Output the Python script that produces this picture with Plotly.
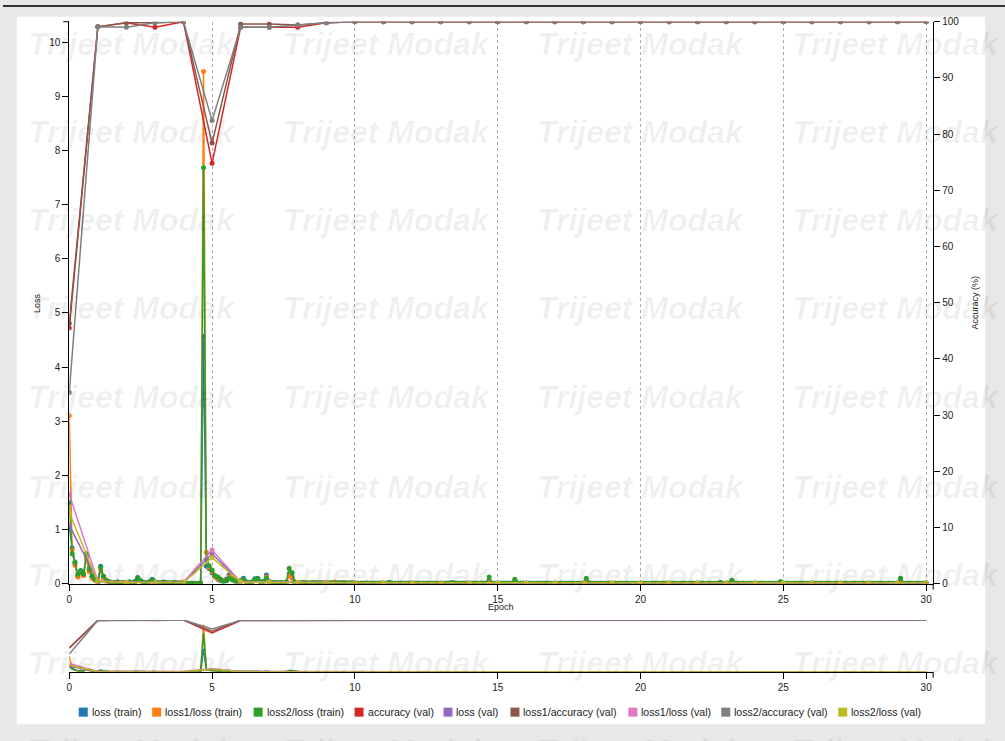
import plotly.graph_objects as go

W, H = 1005, 741

# ---------------- data ----------------
series_names = ["loss (train)", "loss1/loss (train)", "loss2/loss (train)",
                "accuracy (val)", "loss (val)", "loss1/accuracy (val)",
                "loss1/loss (val)", "loss2/accuracy (val)", "loss2/loss (val)"]
series_colors = ["#1f77b4", "#ff7f0e", "#2ca02c", "#d62728", "#9467bd",
                 "#8c564b", "#e377c2", "#7f7f7f", "#bcbd22"]

train_steps_per_epoch = 10

loss_train_rows = [
    [1.02, 0.66, 0.38, 0.14, 0.24, 0.16, 0.50, 0.24, 0.12, 0.07],
    [0.03, 0.32, 0.12, 0.05, 0.03, 0.02, 0.02, 0.03, 0.01, 0.02],
    [0.02, 0.03, 0.02, 0.04, 0.11, 0.05, 0.02, 0.01, 0.03, 0.08],
    [0.03, 0.02, 0.01, 0.03, 0.02, 0.01, 0.01, 0.02, 0.01, 0.01],
    [0.01, 0.005, 0.005, 0.004, 0.005, 0.004, 0.01, 4.57, 0.32, 0.28],
    [0.20, 0.14, 0.08, 0.05, 0.04, 0.08, 0.16, 0.10, 0.04, 0.03],
    [0.05, 0.10, 0.03, 0.02, 0.03, 0.09, 0.10, 0.03, 0.04, 0.16],
    [0.04, 0.02, 0.02, 0.01, 0.02, 0.01, 0.03, 0.18, 0.12, 0.03],
    [0.02, 0.01, 0.02, 0.01, 0.01, 0.02, 0.01, 0.01, 0.02, 0.01],
    [0.01, 0.01, 0.02, 0.01, 0.01, 0.01, 0.02, 0.01, 0.01, 0.01],
    [0.01, 0.005, 0.008, 0.006, 0.01, 0.005, 0.007, 0.006, 0.005, 0.008],
    [0.006, 0.005, 0.02, 0.006, 0.005, 0.007, 0.005, 0.006, 0.005, 0.004],
    [0.005, 0.006, 0.004, 0.005, 0.007, 0.005, 0.004, 0.005, 0.006, 0.004],
    [0.005, 0.004, 0.006, 0.005, 0.015, 0.005, 0.004, 0.005, 0.004, 0.005],
    [0.004, 0.005, 0.004, 0.006, 0.005, 0.004, 0.008, 0.05, 0.006, 0.004],
    [0.005, 0.004, 0.005, 0.006, 0.004, 0.005, 0.04, 0.006, 0.004, 0.005],
    [0.004, 0.005, 0.004, 0.003, 0.005, 0.004, 0.003, 0.004, 0.005, 0.003],
    [0.004, 0.003, 0.005, 0.004, 0.003, 0.004, 0.005, 0.003, 0.004, 0.003],
    [0.004, 0.04, 0.005, 0.003, 0.004, 0.003, 0.005, 0.004, 0.003, 0.004],
    [0.003, 0.004, 0.003, 0.005, 0.003, 0.004, 0.003, 0.004, 0.003, 0.003],
    [0.003, 0.004, 0.003, 0.003, 0.004, 0.003, 0.005, 0.003, 0.003, 0.004],
    [0.003, 0.003, 0.004, 0.003, 0.003, 0.004, 0.003, 0.003, 0.004, 0.003],
    [0.003, 0.004, 0.003, 0.003, 0.004, 0.003, 0.003, 0.004, 0.012, 0.003],
    [0.004, 0.003, 0.03, 0.004, 0.003, 0.003, 0.004, 0.003, 0.003, 0.004],
    [0.003, 0.003, 0.004, 0.003, 0.003, 0.004, 0.003, 0.003, 0.004, 0.02],
    [0.003, 0.004, 0.003, 0.003, 0.004, 0.003, 0.003, 0.004, 0.003, 0.003],
    [0.004, 0.003, 0.003, 0.004, 0.003, 0.003, 0.004, 0.003, 0.003, 0.004],
    [0.003, 0.003, 0.004, 0.003, 0.003, 0.004, 0.003, 0.003, 0.004, 0.003],
    [0.003, 0.004, 0.003, 0.003, 0.004, 0.003, 0.003, 0.004, 0.003, 0.003],
    [0.004, 0.03, 0.003, 0.004, 0.003, 0.003, 0.004, 0.003, 0.003, 0.004],
    [0.003],
]

loss1_loss_train_rows = [
    [3.10, 0.62, 0.34, 0.12, 0.20, 0.15, 0.46, 0.22, 0.10, 0.06],
    [0.03, 0.26, 0.10, 0.04, 0.03, 0.02, 0.01, 0.02, 0.01, 0.02],
    [0.01, 0.02, 0.02, 0.03, 0.08, 0.04, 0.01, 0.01, 0.02, 0.06],
    [0.02, 0.01, 0.01, 0.02, 0.01, 0.01, 0.01, 0.01, 0.01, 0.01],
    [0.005, 0.004, 0.004, 0.003, 0.004, 0.003, 0.008, 9.46, 0.58, 0.30],
    [0.22, 0.12, 0.10, 0.06, 0.05, 0.06, 0.12, 0.09, 0.05, 0.03],
    [0.04, 0.06, 0.03, 0.02, 0.02, 0.06, 0.08, 0.02, 0.03, 0.12],
    [0.03, 0.02, 0.01, 0.01, 0.01, 0.01, 0.02, 0.15, 0.10, 0.02],
    [0.01, 0.01, 0.01, 0.01, 0.01, 0.01, 0.01, 0.01, 0.01, 0.01],
    [0.01, 0.01, 0.01, 0.03, 0.01, 0.01, 0.01, 0.01, 0.01, 0.01],
    [0.008, 0.004, 0.006, 0.005, 0.007, 0.004, 0.005, 0.006, 0.004, 0.005],
    [0.005, 0.004, 0.01, 0.005, 0.004, 0.006, 0.004, 0.005, 0.004, 0.003],
    [0.004, 0.005, 0.003, 0.004, 0.005, 0.004, 0.003, 0.004, 0.005, 0.003],
    [0.004, 0.003, 0.005, 0.004, 0.012, 0.004, 0.003, 0.004, 0.003, 0.004],
    [0.003, 0.004, 0.003, 0.005, 0.004, 0.003, 0.006, 0.04, 0.005, 0.003],
    [0.004, 0.003, 0.004, 0.005, 0.003, 0.004, 0.07, 0.005, 0.003, 0.004],
    [0.003, 0.004, 0.003, 0.003, 0.004, 0.003, 0.003, 0.004, 0.004, 0.003],
    [0.003, 0.003, 0.004, 0.003, 0.003, 0.004, 0.004, 0.003, 0.003, 0.003],
    [0.003, 0.06, 0.004, 0.003, 0.003, 0.003, 0.004, 0.003, 0.003, 0.003],
    [0.003, 0.003, 0.003, 0.004, 0.003, 0.003, 0.003, 0.003, 0.003, 0.003],
    [0.003, 0.003, 0.003, 0.003, 0.003, 0.003, 0.004, 0.003, 0.003, 0.003],
    [0.003, 0.003, 0.003, 0.003, 0.003, 0.003, 0.003, 0.003, 0.003, 0.003],
    [0.003, 0.003, 0.003, 0.003, 0.003, 0.003, 0.003, 0.003, 0.01, 0.003],
    [0.003, 0.003, 0.025, 0.003, 0.003, 0.003, 0.003, 0.003, 0.003, 0.003],
    [0.003, 0.003, 0.003, 0.003, 0.003, 0.003, 0.003, 0.003, 0.003, 0.015],
    [0.003, 0.002, 0.003, 0.003, 0.002, 0.003, 0.003, 0.002, 0.003, 0.003],
    [0.003, 0.003, 0.002, 0.003, 0.003, 0.002, 0.003, 0.003, 0.002, 0.003],
    [0.002, 0.003, 0.003, 0.002, 0.003, 0.003, 0.002, 0.003, 0.003, 0.002],
    [0.003, 0.002, 0.003, 0.003, 0.002, 0.003, 0.003, 0.002, 0.003, 0.003],
    [0.003, 0.04, 0.003, 0.002, 0.003, 0.003, 0.002, 0.003, 0.003, 0.002],
    [0.003],
]

loss2_loss_train_rows = [
    [1.50, 0.55, 0.40, 0.17, 0.23, 0.18, 0.55, 0.28, 0.14, 0.08],
    [0.03, 0.30, 0.14, 0.06, 0.04, 0.02, 0.02, 0.03, 0.01, 0.02],
    [0.02, 0.03, 0.02, 0.04, 0.10, 0.05, 0.02, 0.01, 0.03, 0.07],
    [0.03, 0.02, 0.01, 0.02, 0.02, 0.01, 0.01, 0.02, 0.01, 0.01],
    [0.005, 0.003, 0.003, 0.002, 0.003, 0.002, 0.004, 7.68, 0.45, 0.33],
    [0.25, 0.15, 0.12, 0.08, 0.04, 0.05, 0.10, 0.07, 0.06, 0.03],
    [0.05, 0.08, 0.03, 0.02, 0.03, 0.08, 0.09, 0.03, 0.04, 0.10],
    [0.04, 0.02, 0.02, 0.01, 0.02, 0.01, 0.03, 0.28, 0.20, 0.03],
    [0.02, 0.01, 0.02, 0.01, 0.01, 0.01, 0.02, 0.01, 0.01, 0.01],
    [0.01, 0.01, 0.01, 0.01, 0.01, 0.02, 0.01, 0.01, 0.01, 0.01],
    [0.01, 0.006, 0.008, 0.007, 0.01, 0.006, 0.008, 0.007, 0.006, 0.009],
    [0.007, 0.006, 0.02, 0.007, 0.006, 0.008, 0.006, 0.007, 0.006, 0.005],
    [0.006, 0.007, 0.005, 0.006, 0.008, 0.006, 0.005, 0.006, 0.007, 0.005],
    [0.006, 0.005, 0.007, 0.006, 0.02, 0.006, 0.005, 0.006, 0.005, 0.006],
    [0.005, 0.006, 0.005, 0.007, 0.006, 0.005, 0.01, 0.12, 0.007, 0.005],
    [0.006, 0.005, 0.006, 0.007, 0.005, 0.006, 0.08, 0.007, 0.005, 0.006],
    [0.005, 0.006, 0.005, 0.004, 0.006, 0.005, 0.004, 0.005, 0.006, 0.004],
    [0.005, 0.004, 0.006, 0.005, 0.004, 0.005, 0.006, 0.004, 0.005, 0.004],
    [0.005, 0.10, 0.006, 0.004, 0.005, 0.004, 0.006, 0.005, 0.004, 0.005],
    [0.004, 0.005, 0.004, 0.006, 0.004, 0.005, 0.004, 0.005, 0.004, 0.004],
    [0.004, 0.005, 0.004, 0.004, 0.005, 0.004, 0.006, 0.004, 0.004, 0.005],
    [0.004, 0.004, 0.005, 0.004, 0.004, 0.005, 0.004, 0.004, 0.005, 0.004],
    [0.004, 0.005, 0.004, 0.004, 0.005, 0.004, 0.004, 0.005, 0.02, 0.004],
    [0.005, 0.004, 0.06, 0.005, 0.004, 0.004, 0.005, 0.004, 0.004, 0.005],
    [0.004, 0.004, 0.005, 0.004, 0.004, 0.005, 0.004, 0.004, 0.005, 0.04],
    [0.004, 0.005, 0.004, 0.004, 0.005, 0.004, 0.004, 0.005, 0.004, 0.004],
    [0.005, 0.004, 0.004, 0.005, 0.004, 0.004, 0.005, 0.004, 0.004, 0.005],
    [0.004, 0.004, 0.005, 0.004, 0.004, 0.005, 0.004, 0.004, 0.005, 0.004],
    [0.004, 0.005, 0.004, 0.004, 0.005, 0.004, 0.004, 0.005, 0.004, 0.004],
    [0.005, 0.10, 0.004, 0.005, 0.004, 0.004, 0.005, 0.004, 0.004, 0.005],
    [0.004],
]

val_epochs = list(range(0, 31))
accuracy_val = [45.5, 99.1, 99.8, 99.0, 100, 74.8, 99.0, 99.0, 99.0, 99.8,
                100, 100, 100, 100, 100, 100, 100, 100, 100, 100,
                100, 100, 100, 100, 100, 100, 100, 100, 100, 100, 100]
loss1_accuracy_val = [46.3, 99.1, 99.8, 99.8, 100, 78.4, 99.6, 99.6, 99.4, 99.8,
                      100, 100, 100, 100, 100, 100, 100, 100, 100, 100,
                      100, 100, 100, 100, 100, 100, 100, 100, 100, 100, 100]
loss2_accuracy_val = [34.0, 99.1, 99.0, 99.8, 100, 82.4, 99.0, 99.0, 99.4, 99.8,
                      100, 100, 100, 100, 100, 100, 100, 100, 100, 100,
                      100, 100, 100, 100, 100, 100, 100, 100, 100, 100, 100]
loss_val = [1.08, 0.04, 0.02, 0.02, 0.02, 0.55, 0.03, 0.02, 0.02, 0.02,
            0.01, 0.01, 0.01, 0.01, 0.01, 0.01, 0.01, 0.01, 0.01, 0.01,
            0.01, 0.01, 0.01, 0.01, 0.01, 0.01, 0.01, 0.01, 0.01, 0.01, 0.01]
loss1_loss_val = [1.65, 0.05, 0.03, 0.02, 0.03, 0.62, 0.03, 0.03, 0.02, 0.02,
                  0.01, 0.01, 0.01, 0.01, 0.01, 0.01, 0.01, 0.01, 0.01, 0.01,
                  0.01, 0.01, 0.01, 0.01, 0.01, 0.01, 0.01, 0.01, 0.01, 0.01, 0.01]
loss2_loss_val = [1.31, 0.04, 0.02, 0.02, 0.02, 0.48, 0.03, 0.02, 0.02, 0.01,
                  0.01, 0.01, 0.01, 0.01, 0.01, 0.01, 0.01, 0.01, 0.01, 0.01,
                  0.01, 0.01, 0.01, 0.01, 0.01, 0.01, 0.01, 0.01, 0.01, 0.01, 0.01]

x_ticks = [0, 5, 10, 15, 20, 25, 30]
loss_ticks = [0, 1, 2, 3, 4, 5, 6, 7, 8, 9, 10]
acc_ticks = [0, 10, 20, 30, 40, 50, 60, 70, 80, 90, 100]


def flatten(rows):
    return [v for r in rows for v in r]


loss_train = flatten(loss_train_rows)
loss1_loss_train = flatten(loss1_loss_train_rows)
loss2_loss_train = flatten(loss2_loss_train_rows)
train_epochs = [i / train_steps_per_epoch for i in range(len(loss_train))]

series = [
    (train_epochs, loss_train, "loss"),
    (train_epochs, loss1_loss_train, "loss"),
    (train_epochs, loss2_loss_train, "loss"),
    (val_epochs, accuracy_val, "acc"),
    (val_epochs, loss_val, "loss"),
    (val_epochs, loss1_accuracy_val, "acc"),
    (val_epochs, loss1_loss_val, "loss"),
    (val_epochs, loss2_accuracy_val, "acc"),
    (val_epochs, loss2_loss_val, "loss"),
]

# ---------------- layout geometry (target pixels, with render correction) ----------------
SX, OX = 0.9977, 2.2
SY, OY = 0.9845, 5.3


def px_x(p):
    return ((p - OX) / SX) / W


def px_y(p):
    return 1 - ((p - OY) / SY) / H


plot_left, plot_right = 68.5, 933
main_top, main_bottom = 22, 582.7
sub_top, sub_bottom = 619, 670.7
x_max = 30.245
loss_max = 10.38

fig = go.Figure()

for (x, y, ax), name, col in zip(series, series_names, series_colors):
    fig.add_trace(go.Scatter(
        x=x, y=y, name=name, mode="lines+markers",
        line=dict(color=col, width=1.5),
        marker=dict(color=col, size=5),
        xaxis="x", yaxis="y" if ax == "loss" else "y2",
        showlegend=False, hoverinfo="skip"))

for (x, y, ax), name, col in zip(series, series_names, series_colors):
    fig.add_trace(go.Scatter(
        x=x, y=y, name=name, mode="lines",
        line=dict(color=col, width=1.5),
        xaxis="x2", yaxis="y3" if ax == "loss" else "y4",
        showlegend=False, hoverinfo="skip"))

tickfont = dict(family="Liberation Sans, Arial, sans-serif", size=10, color="#222")
axis_common = dict(showline=True, linecolor="#000", linewidth=1, ticks="outside",
                   ticklen=6, tickcolor="#000", zeroline=False, tickfont=tickfont,
                   fixedrange=True)

fig.update_layout(
    width=W, height=H, autosize=False,
    margin=dict(l=0, r=0, t=0, b=0),
    paper_bgcolor="#e8e8e8", plot_bgcolor="rgba(0,0,0,0)",
    showlegend=False,
    xaxis=dict(domain=[px_x(plot_left), px_x(plot_right)], range=[0, x_max],
               tickvals=x_ticks, anchor="y", showgrid=True, gridcolor="#aaa",
               griddash="3px,3px", gridwidth=1, **axis_common),
    yaxis=dict(domain=[px_y(main_bottom), px_y(main_top)], range=[0, loss_max],
               tickvals=loss_ticks, anchor="x", showgrid=False, **axis_common),
    yaxis2=dict(range=[0, 100], tickvals=acc_ticks, overlaying="y", side="right",
                anchor="x", showgrid=False, **axis_common),
    xaxis2=dict(domain=[px_x(plot_left), px_x(plot_right)], range=[0, x_max],
                tickvals=x_ticks, anchor="y3", showgrid=False, **axis_common),
    yaxis3=dict(domain=[px_y(sub_bottom), px_y(sub_top)], range=[0, loss_max],
                visible=False, anchor="x2", fixedrange=True),
    yaxis4=dict(range=[0, 100], overlaying="y3", visible=False, anchor="x2",
                fixedrange=True),
)

shapes = [
    dict(type="rect", xref="paper", yref="paper", layer="below",
         x0=px_x(16), x1=px_x(985), y0=px_y(723), y1=px_y(17),
         fillcolor="white", line=dict(width=0)),
    dict(type="rect", xref="paper", yref="paper", layer="below",
         x0=0, x1=1, y0=1 - 2 / H, y1=1,
         fillcolor="#333", line=dict(width=0)),
]

# C3-style outer end ticks of the axis domain paths
end_ticks = [
    (plot_left - 6, main_top, plot_left, main_top),          # left axis top
    (plot_right, main_bottom, plot_right, main_bottom + 6),  # main x axis end
    (plot_right, sub_bottom, plot_right, sub_bottom + 6),    # sub x axis end
]
for x0, y0, x1, y1 in end_ticks:
    shapes.append(dict(type="line", xref="paper", yref="paper",
                       x0=px_x(x0), y0=px_y(y0), x1=px_x(x1), y1=px_y(y1),
                       line=dict(color="#000", width=1)))

annotations = []
title_font = dict(family="Liberation Sans, Arial, sans-serif", size=9, color="#222")
annotations.append(dict(text="Loss", xref="paper", yref="paper", x=px_x(37), y=px_y(303),
                        textangle=-90, showarrow=False, font=title_font,
                        xanchor="center", yanchor="middle"))
annotations.append(dict(text="Accuracy (%)", xref="paper", yref="paper", x=px_x(975),
                        y=px_y(302), textangle=-90, showarrow=False, font=title_font,
                        xanchor="center", yanchor="middle"))
annotations.append(dict(text="Epoch", xref="paper", yref="paper", x=px_x(501),
                        y=px_y(606), showarrow=False, font=title_font,
                        xanchor="center", yanchor="middle"))

# legend (custom, C3 style)
legend_x = [78, 151.5, 253, 354, 443, 510, 628, 721, 838]
legend_font = dict(family="Liberation Sans, Arial, sans-serif", size=10.6, color="#222")
for lx, name, col in zip(legend_x, series_names, series_colors):
    shapes.append(dict(type="rect", xref="paper", yref="paper",
                       x0=px_x(lx), x1=px_x(lx + 9), y0=px_y(715.5), y1=px_y(706.5),
                       fillcolor=col, line=dict(width=0)))
    annotations.append(dict(text=name, xref="paper", yref="paper", x=px_x(lx + 11),
                            y=px_y(711), xanchor="left", yanchor="middle",
                            showarrow=False, font=legend_font))

# watermark
wm_cols = [25, 280, 535, 790]
wm_rows = [44, 132, 220, 308, 397, 486, 574, 662, 750]
for r in wm_rows:
    for c in wm_cols:
        annotations.append(dict(text="<b><i>Trijeet Modak</i></b>", xref="paper",
                                yref="paper", x=px_x(c), y=px_y(r), xanchor="left",
                                yanchor="middle", showarrow=False,
                                font=dict(family="Liberation Sans, Arial, sans-serif",
                                          size=32, color="rgba(0,0,0,0.06)")))

fig.update_layout(shapes=shapes, annotations=annotations)

fig.write_html("out.html", config={"displayModeBar": False})
